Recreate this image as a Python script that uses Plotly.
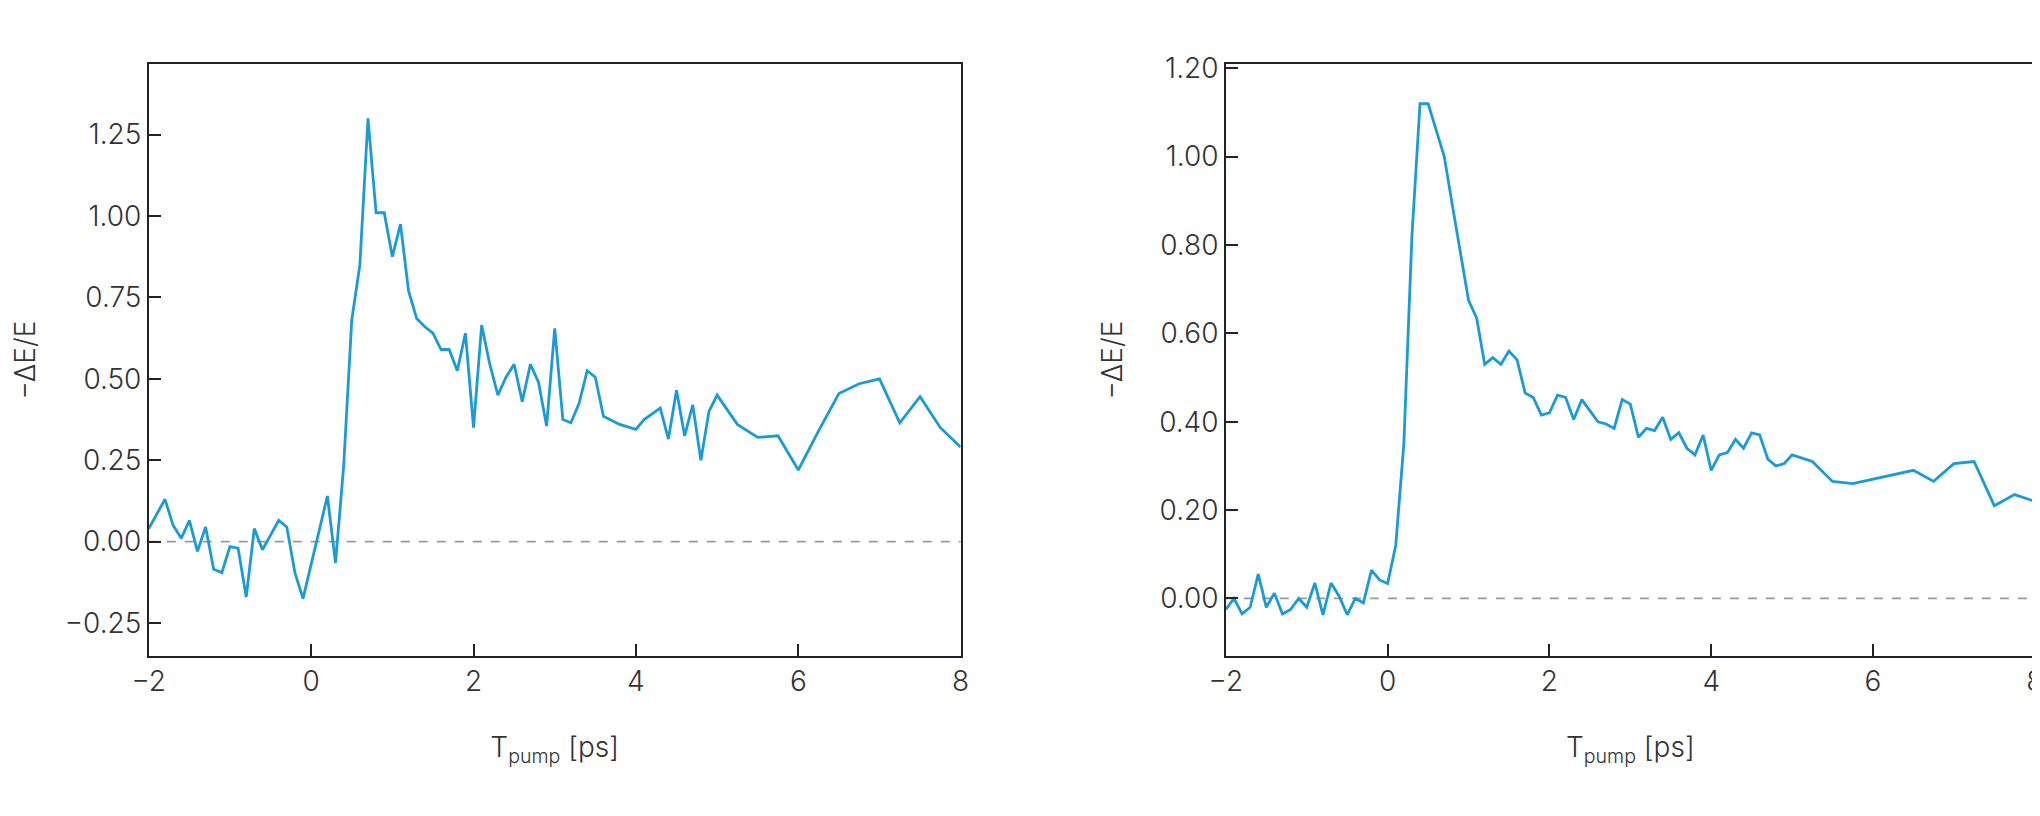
import plotly.graph_objects as go

x_left = [-2,-1.8,-1.7,-1.6,-1.5,-1.4,-1.3,-1.2,-1.1,-1.0,-0.9,-0.8,-0.7,-0.6,-0.5,-0.4,-0.3,-0.2,-0.1,0,0.1,0.2,0.3,0.4,0.5,0.6,0.7,0.8,0.9,1.0,1.1,1.2,1.3,1.4,1.5,1.6,1.7,1.8,1.9,2.0,2.1,2.2,2.3,2.4,2.5,2.6,2.7,2.8,2.9,3.0,3.1,3.2,3.3,3.4,3.5,3.6,3.8,4.0,4.1,4.3,4.4,4.5,4.6,4.7,4.8,4.9,5.0,5.25,5.5,5.75,6.0,6.25,6.5,6.75,7.0,7.25,7.5,7.75,8.0]
y_left = [0.04,0.13,0.05,0.01,0.065,-0.03,0.045,-0.085,-0.095,-0.015,-0.02,-0.17,0.04,-0.025,0.02,0.065,0.045,-0.095,-0.175,-0.07,0.04,0.14,-0.065,0.23,0.68,0.85,1.30,1.01,1.01,0.875,0.975,0.77,0.685,0.66,0.64,0.59,0.59,0.525,0.64,0.35,0.665,0.545,0.45,0.505,0.545,0.43,0.545,0.49,0.355,0.655,0.375,0.365,0.425,0.525,0.505,0.385,0.36,0.345,0.375,0.41,0.315,0.465,0.325,0.42,0.25,0.40,0.45,0.36,0.32,0.325,0.22,0.34,0.455,0.485,0.50,0.365,0.445,0.35,0.29]

x_right = [-2,-1.9,-1.8,-1.7,-1.6,-1.5,-1.4,-1.3,-1.2,-1.1,-1.0,-0.9,-0.8,-0.7,-0.6,-0.5,-0.4,-0.3,-0.2,-0.1,0,0.1,0.2,0.3,0.4,0.5,0.6,0.7,0.8,0.9,1.0,1.1,1.2,1.3,1.4,1.5,1.6,1.7,1.8,1.9,2.0,2.1,2.2,2.3,2.4,2.5,2.6,2.7,2.8,2.9,3.0,3.1,3.2,3.3,3.4,3.5,3.6,3.7,3.8,3.9,4.0,4.1,4.2,4.3,4.4,4.5,4.6,4.7,4.8,4.9,5.0,5.25,5.5,5.75,6.0,6.25,6.5,6.75,7.0,7.25,7.5,7.75,8.0]
y_right = [-0.025,0,-0.035,-0.02,0.055,-0.02,0.012,-0.035,-0.025,0,-0.02,0.035,-0.037,0.035,0.005,-0.037,0,-0.01,0.064,0.042,0.034,0.12,0.35,0.82,1.12,1.12,1.06,1.0,0.89,0.78,0.675,0.635,0.53,0.545,0.53,0.56,0.54,0.465,0.455,0.415,0.42,0.46,0.455,0.405,0.45,0.425,0.40,0.395,0.385,0.45,0.44,0.365,0.385,0.38,0.41,0.36,0.375,0.34,0.325,0.37,0.29,0.325,0.33,0.36,0.34,0.375,0.37,0.315,0.30,0.305,0.325,0.31,0.265,0.26,0.27,0.28,0.29,0.265,0.305,0.31,0.21,0.235,0.22]

x_ticks = [-2,0,2,4,6,8]
yl_ticks = [-0.25,0,0.25,0.5,0.75,1.0,1.25]
yr_ticks = [0,0.2,0.4,0.6,0.8,1.0,1.2]

BLUE = "#1a9bd7"
FONT = dict(family="Inter", size=28, color="#333333", weight=300)

fig = go.Figure()
fig.add_trace(go.Scatter(x=x_left, y=y_left, mode="lines", line=dict(color=BLUE, width=2.8), xaxis="x", yaxis="y", showlegend=False))
fig.add_trace(go.Scatter(x=x_right, y=y_right, mode="lines", line=dict(color=BLUE, width=2.8), xaxis="x2", yaxis="y2", showlegend=False))

ax = dict(showline=True, mirror=True, linecolor="#222222", linewidth=1.5, ticks="inside", ticklen=12, tickwidth=1.5, tickcolor="#222222", showgrid=False, zeroline=False, tickfont=FONT, automargin=False)
fig.update_layout(
    width=2040, height=816, plot_bgcolor="white", paper_bgcolor="white",
    margin=dict(l=0, r=0, t=0, b=0), font=FONT,
    xaxis=dict(ax, domain=[0.069, 0.467], range=[-2, 8], tickvals=x_ticks, anchor="y",
               title=dict(text="T<sub>pump</sub> [ps]", standoff=40, font=FONT)),
    yaxis=dict(ax, domain=[0.206, 0.931], range=[-0.351, 1.466], tickvals=yl_ticks,
               ticktext=["−0.25","0.00","0.25","0.50","0.75","1.00","1.25"], anchor="x",
               title=dict(text="−ΔE/E", standoff=28, font=FONT)),
    xaxis2=dict(ax, domain=[0.597, 0.9935], range=[-2, 8], tickvals=x_ticks, anchor="y2",
                title=dict(text="T<sub>pump</sub> [ps]", standoff=40, font=FONT)),
    yaxis2=dict(ax, domain=[0.206, 0.931], range=[-0.13, 1.209], tickvals=yr_ticks,
                ticktext=["0.00","0.20","0.40","0.60","0.80","1.00","1.20"], anchor="x2",
                title=dict(text="−ΔE/E", standoff=28, font=FONT)),
)
fig.update_xaxes(ticktext=["−2","0","2","4","6","8"])
for xr, yr in [("x domain", "y"), ("x2 domain", "y2")]:
    fig.add_shape(type="line", xref=xr, yref=yr, x0=0, x1=1, y0=0, y1=0,
                  line=dict(color="#999999", width=1.8, dash="dash"), layer="below")
fig.write_html("out.html")
